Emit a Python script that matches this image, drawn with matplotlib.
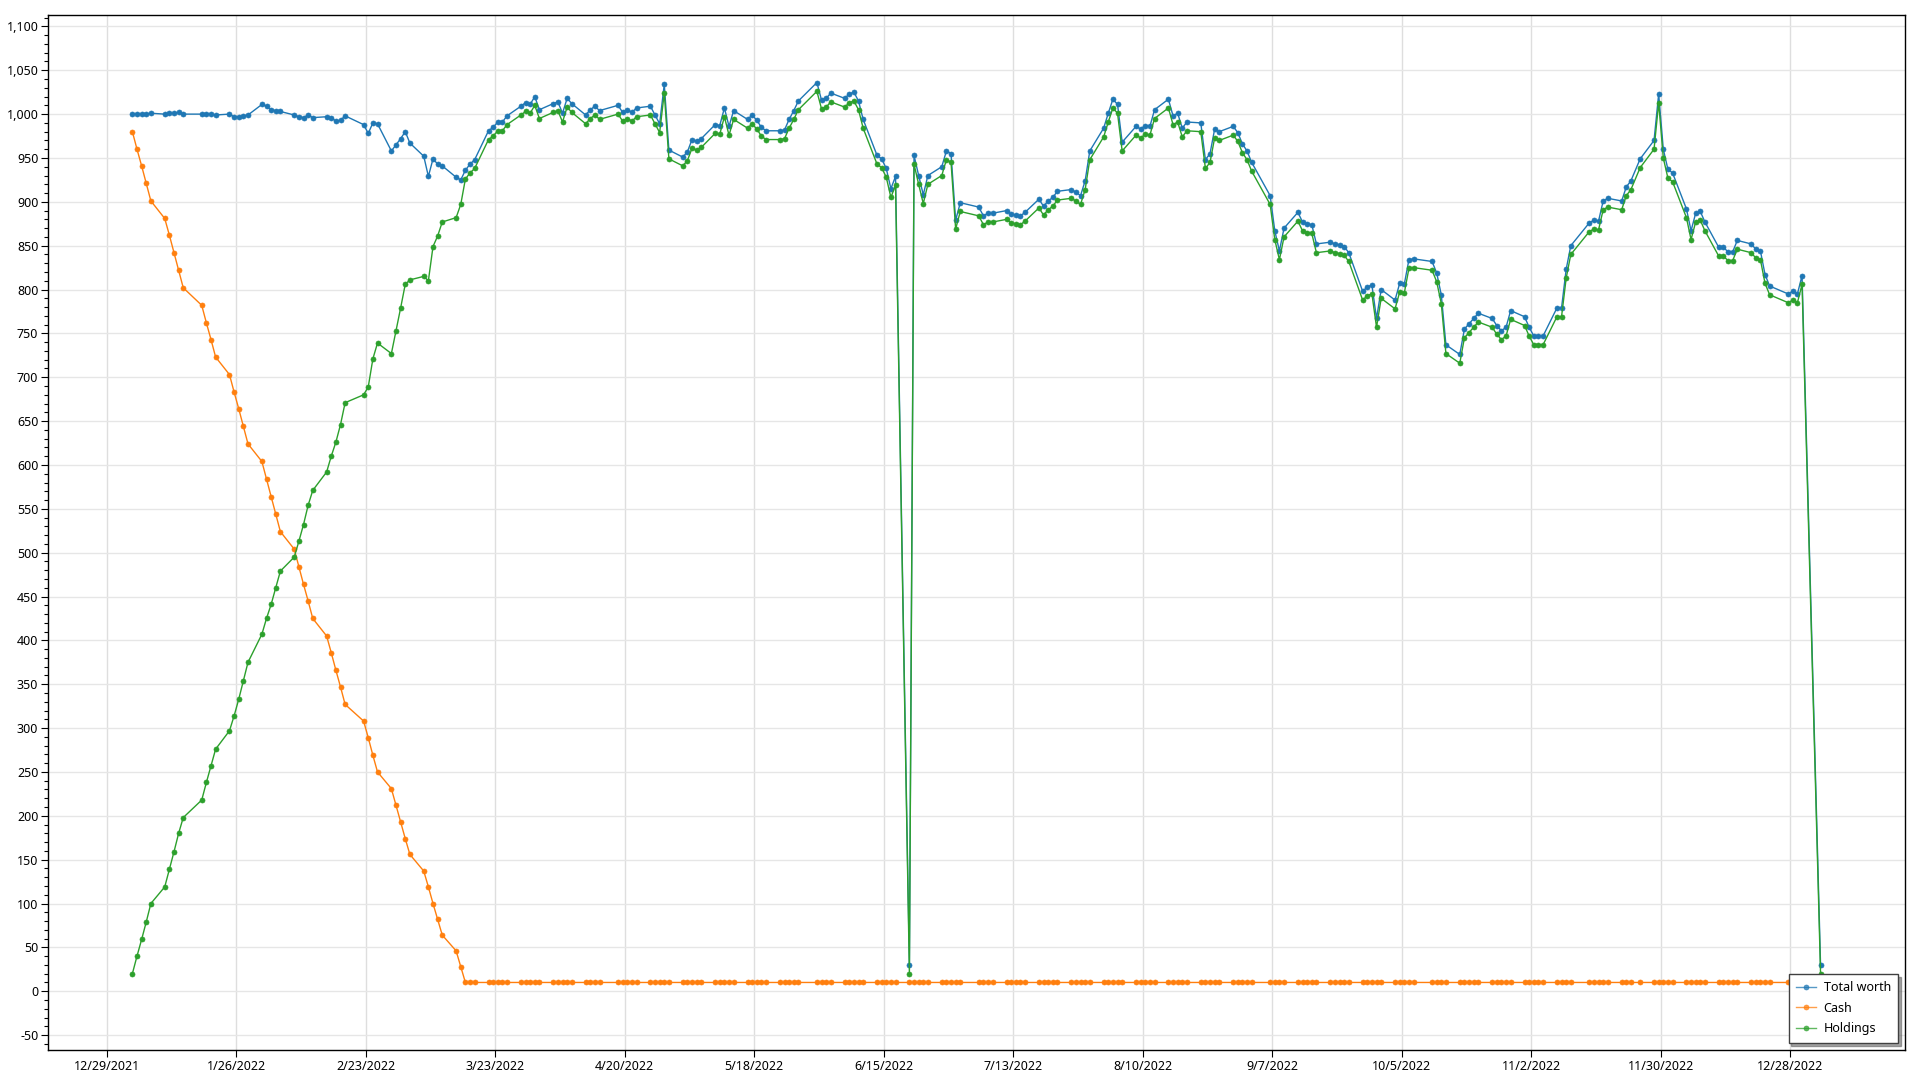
#!/usr/bin/env python3
"""
Portfolio value over 2022: total worth, cash and holdings per trading day.
"""

import matplotlib
matplotlib.use("Agg")
import matplotlib.pyplot as plt
import matplotlib.dates as mdates
from matplotlib.ticker import FixedLocator, MultipleLocator, FuncFormatter
import pandas as pd

plt.rcParams.update({
    'font.family': ['Noto Sans', 'DejaVu Sans'],
    'font.size': 9,
})

# trading calendar used by the simulation: weekdays minus these closures
first_day = '2022-01-03'
last_day = '2023-01-03'
closed_days = ['2022-01-17', '2022-02-21', '2022-04-15', '2022-05-30', '2022-07-04',
               '2022-09-05', '2022-10-10', '2022-11-11', '2022-11-24', '2022-12-26',
               '2023-01-02']

total_worth = [
    # Jan
    1000, 1000, 1000, 1000, 1001, 1000, 1001, 1001, 1002, 1000, 1000, 1000, 1000, 999,
    1000, 997, 997, 998, 999, 1011,
    # Feb
    1009, 1005, 1004, 1003, 999, 997, 996, 999, 996, 997, 996, 992, 993, 998,
    988, 978, 990, 989, 958,
    # Mar
    965, 972, 980, 967, 952, 929, 949, 943, 941, 928, 925, 936, 943, 948,
    981, 985, 991, 991, 998, 1009, 1013, 1011, 1020,
    # Apr
    1005, 1012, 1014, 1001, 1018, 1012, 999, 1005, 1009, 1004,
    1010, 1002, 1005, 1002, 1007, 1009, 999, 989, 1034, 959,
    # May
    951, 957, 971, 969, 972, 988, 987, 1007, 986, 1004, 994, 999, 993, 985, 981,
    981, 982, 994, 1004, 1015, 1036,
    # Jun
    1016, 1018, 1024, 1018, 1023, 1025, 1015, 994, 953, 949, 938, 915, 929,
    30, 953, 930, 908, 930, 940, 958, 955, 879,
    # Jul
    899, 894, 884, 887, 887, 890, 886, 885, 884, 888, 903, 895, 901, 905, 912,
    914, 911, 907, 924, 958,
    # Aug
    984, 1001, 1017, 1011, 968, 986, 983, 987, 986, 1005, 1017, 998, 1001, 984, 991,
    990, 948, 955, 983, 980, 986, 979, 966,
    # Sep
    958, 945, 907, 867, 844, 870, 888, 877, 875, 874, 852, 854, 852, 851, 849, 842,
    798, 803, 805, 767, 800,
    # Oct
    788, 807, 806, 834, 835, 832, 819, 794, 737, 726, 755, 761, 767, 773,
    767, 759, 753, 757, 776, 769,
    # Nov
    757, 747, 747, 747, 779, 779, 823, 850, 876, 879, 878, 901, 904,
    901, 917, 924, 949, 970, 1023, 960,
    # Dec
    937, 933, 892, 867, 887, 889, 877, 848, 848, 843, 843, 856, 852, 846, 844, 817, 804,
    795, 798, 795, 816,
    # Jan 2023
    30,
]

cash = [
    # Jan
    980, 960, 941, 921, 901, 881, 862, 842, 822, 802, 782, 762, 743, 723,
    703, 683, 664, 644, 624, 604,
    # Feb
    584, 564, 544, 524, 504, 484, 464, 445, 425, 405, 386, 366, 347, 327,
    308, 289, 269, 250, 231,
    # Mar
    212, 193, 174, 156, 137, 119, 100, 82, 64, 46, 28, 10, 10, 10,
    10, 10, 10, 10, 10, 10, 10, 10, 10,
    # Apr
    10, 10, 10, 10, 10, 10, 10, 10, 10, 10, 10, 10, 10, 10, 10, 10, 10, 10, 10, 10,
    # May
    10, 10, 10, 10, 10, 10, 10, 10, 10, 10, 10, 10, 10, 10, 10, 10, 10, 10, 10, 10, 10,
    # Jun
    10, 10, 10, 10, 10, 10, 10, 10, 10, 10, 10, 10, 10, 10, 10, 10, 10, 10, 10, 10, 10, 10,
    # Jul
    10, 10, 10, 10, 10, 10, 10, 10, 10, 10, 10, 10, 10, 10, 10, 10, 10, 10, 10, 10,
    # Aug
    10, 10, 10, 10, 10, 10, 10, 10, 10, 10, 10, 10, 10, 10, 10, 10, 10, 10, 10, 10, 10, 10, 10,
    # Sep
    10, 10, 10, 10, 10, 10, 10, 10, 10, 10, 10, 10, 10, 10, 10, 10, 10, 10, 10, 10, 10,
    # Oct
    10, 10, 10, 10, 10, 10, 10, 10, 10, 10, 10, 10, 10, 10, 10, 10, 10, 10, 10, 10,
    # Nov
    10, 10, 10, 10, 10, 10, 10, 10, 10, 10, 10, 10, 10, 10, 10, 10, 10, 10, 10, 10,
    # Dec
    10, 10, 10, 10, 10, 10, 10, 10, 10, 10, 10, 10, 10, 10, 10, 10, 10, 10, 10, 10, 10,
    # Jan 2023
    10,
]

holdings = [
    # Jan
    20, 40, 59, 79, 100, 119, 139, 159, 180, 198, 218, 238, 257, 276,
    297, 314, 333, 354, 375, 407,
    # Feb
    425, 441, 460, 479, 495, 513, 532, 554, 571, 592, 610, 626, 646, 671,
    680, 689, 721, 739, 727,
    # Mar
    753, 779, 806, 811, 815, 810, 849, 861, 877, 882, 897, 926, 933, 938,
    971, 975, 981, 981, 988, 999, 1003, 1001, 1010,
    # Apr
    995, 1002, 1004, 991, 1008, 1002, 989, 995, 999, 994,
    1000, 992, 995, 992, 997, 999, 989, 979, 1024, 949,
    # May
    941, 947, 961, 959, 962, 978, 977, 997, 976, 994, 984, 989, 983, 975, 971,
    971, 972, 984, 994, 1005, 1026,
    # Jun
    1006, 1008, 1014, 1008, 1013, 1015, 1005, 984, 943, 939, 928, 905, 919,
    20, 943, 920, 898, 920, 930, 948, 945, 869,
    # Jul
    889, 884, 874, 877, 877, 880, 876, 875, 874, 878, 893, 885, 891, 895, 902,
    904, 901, 897, 914, 948,
    # Aug
    974, 991, 1007, 1001, 958, 976, 973, 977, 976, 995, 1007, 988, 991, 974, 981,
    980, 938, 945, 973, 970, 976, 969, 956,
    # Sep
    948, 935, 897, 857, 834, 860, 878, 867, 865, 864, 842, 844, 842, 841, 839, 832,
    788, 793, 795, 757, 790,
    # Oct
    778, 797, 796, 824, 825, 822, 809, 784, 727, 716, 745, 751, 757, 763,
    757, 749, 743, 747, 766, 759,
    # Nov
    747, 737, 737, 737, 769, 769, 813, 840, 866, 869, 868, 891, 894,
    891, 907, 914, 939, 960, 1013, 950,
    # Dec
    927, 923, 882, 857, 877, 879, 867, 838, 838, 833, 833, 846, 842, 836, 834, 807, 794,
    785, 788, 785, 806,
    # Jan 2023
    20,
]

series_names = ['Total worth', 'Cash', 'Holdings']
series_colors = ['#1f77b4', '#ff7f0e', '#2ca02c']

# x axis labels every four weeks
date_tick_start = '2021-12-29'
date_tick_count = 14


def make_chart():
    days = pd.bdate_range(first_day, last_day, freq='C', holidays=closed_days)
    days = days + pd.Timedelta(hours=13)  # samples taken during the session
    assert len(days) == len(total_worth) == len(cash) == len(holdings)

    fig = plt.figure(figsize=(19.2, 10.8), dpi=100)
    ax = fig.add_axes([48 / 1920, 30 / 1080, 1857 / 1920, 1035 / 1080])

    for name, values, color in zip(series_names, [total_worth, cash, holdings], series_colors):
        ax.plot(days, values, color=color, lw=1.0, marker='o', ms=3.6,
                mfc=color, mec=color, mew=0.5, label=name)

    # axis ranges
    ref = mdates.date2num(pd.Timestamp('2022-03-23'))
    ax.set_xlim(ref - 96.7, ref + 304.8)
    ax.set_ylim(-67, 1113)

    ticks = pd.date_range(date_tick_start, periods=date_tick_count, freq='28D')
    ax.xaxis.set_major_locator(FixedLocator(mdates.date2num(ticks)))
    ax.xaxis.set_major_formatter(FuncFormatter(
        lambda v, pos: '{d.month}/{d.day}/{d.year}'.format(d=mdates.num2date(v))))

    ax.yaxis.set_major_locator(MultipleLocator(50))
    ax.yaxis.set_minor_locator(MultipleLocator(10))
    ax.yaxis.set_major_formatter(FuncFormatter(lambda v, pos: f'{v:,.0f}'))

    ax.grid(axis='y', which='major', color='#e6e6e6', lw=1.0)
    ax.grid(axis='x', which='major', color='#dedede', lw=1.0)
    ax.set_axisbelow(True)

    ax.tick_params(axis='both', which='major', direction='out', length=5, width=0.8,
                   colors='black', labelsize=9, pad=2)
    ax.tick_params(axis='y', which='minor', direction='out', length=3, width=0.8)
    for spine in ax.spines.values():
        spine.set_color('black')
        spine.set_linewidth(1.0)

    leg = ax.legend(loc='lower right', bbox_to_anchor=(0.9964, 0.007), borderaxespad=0,
                    frameon=True, fancybox=False, shadow=True, fontsize=9,
                    handlelength=1.6, handletextpad=0.6, labelspacing=0.6,
                    borderpad=0.6)
    leg.get_frame().set_edgecolor('#404040')
    leg.get_frame().set_linewidth(1.0)
    for line in leg.get_lines():
        line.set_alpha(0.75)

    fig.savefig('out.png', dpi=100, facecolor='white')
    return fig


if __name__ == "__main__":
    make_chart()
